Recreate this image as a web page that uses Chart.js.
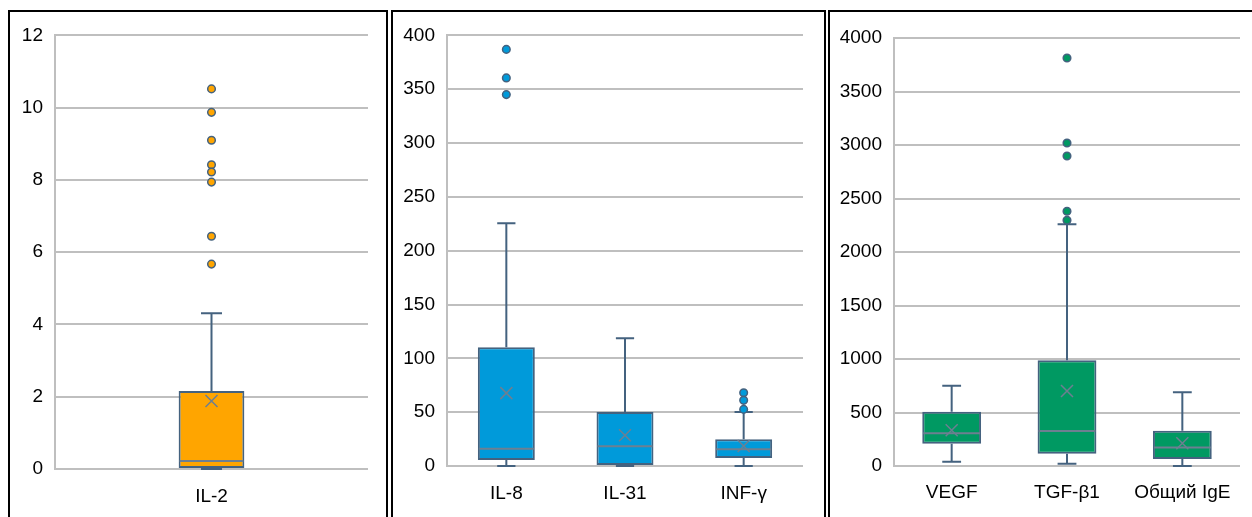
<!DOCTYPE html>
<html>
<head>
<meta charset="utf-8">
<script src="https://cdn.jsdelivr.net/npm/chart.js@4/dist/chart.umd.min.js"></script>
<style>
	html, body { margin: 0; padding: 0; background: #fff; }
	body { width: 1252px; height: 517px; position: relative; overflow: hidden; }
	.panel { position: absolute; top: 10px; height: 530px; border: 2px solid #000; border-bottom: none; box-sizing: border-box; }
	.wrap { position: absolute; }
</style>
</head>
<body>
<div class="panel" style="left:8px;width:380px;"></div>
<div class="panel" style="left:391px;width:435px;"></div>
<div class="panel" style="left:828px;width:440px;"></div>

<div class="wrap" style="left:10px;top:12px;width:376px;height:505px;"><canvas id="chart-il2"></canvas></div>
<div class="wrap" style="left:393px;top:12px;width:431px;height:505px;"><canvas id="chart-il"></canvas></div>
<div class="wrap" style="left:830px;top:12px;width:422px;height:505px;"><canvas id="chart-growth"></canvas></div>

<script>
	'use strict';

	// IL-2 panel
	var il2Labels = ['IL-2'];
	var il2Q1 = [0];
	var il2Q3 = [2.16];
	var il2Median = [0.22];
	var il2Mean = [1.88];
	var il2Low = [0];
	var il2High = [4.31];
	var il2Outliers = [[10.52, 9.87, 9.1, 8.42, 8.22, 7.94, 6.44, 5.67]];
	var il2Ticks = [0, 2, 4, 6, 8, 10, 12];

	// IL-8 / IL-31 / INF-γ panel
	var ilLabels = ['IL-8', 'IL-31', 'INF-γ'];
	var ilQ1 = [5.6, 0, 7.4];
	var ilQ3 = [110.4, 50.1, 24.8];
	var ilMedian = [16.1, 18.3, 15.5];
	var ilMean = [67.7, 28.5, 18.5];
	var ilLow = [0, 0, 0];
	var ilHigh = [225.4, 118.7, 50.1];
	var ilOutliers = [[387, 360.5, 345], [], [68, 61, 52.6]];
	var ilTicks = [0, 50, 100, 150, 200, 250, 300, 350, 400];

	// VEGF / TGF-β1 / IgE panel
	var growthLabels = ['VEGF', 'TGF-β1', 'Общий IgE'];
	var growthQ1 = [207, 114, 66];
	var growthQ3 = [508, 988, 330];
	var growthMedian = [305, 326, 172];
	var growthMean = [334, 701, 212];
	var growthLow = [39, 22, 0];
	var growthHigh = [751, 2259, 689];
	var growthOutliers = [[], [3813, 3019, 2897, 2381, 2297], []];
	var growthTicks = [0, 500, 1000, 1500, 2000, 2500, 3000, 3500, 4000];

	var lineColor = '#44627f';
	var detailColor = '#6d7f91';
	var gridColor = '#bfbfbf';
	var fontFamily = '"Liberation Sans", Arial, sans-serif';

	function boxPartsPlugin(stats) {
		return {
			id: 'boxParts',
			beforeDatasetsDraw: function (chart) {
				var ctx = chart.ctx;
				var x = chart.scales.x;
				var y = chart.scales.y;
				var bars = chart.getDatasetMeta(1).data;
				ctx.save();
				ctx.strokeStyle = lineColor;
				ctx.lineWidth = 2;
				stats.q1.forEach(function (q1, i) {
					var cx = x.getPixelForValue(i);
					var cap = bars[i].width * 0.32 / 2;
					ctx.beginPath();
					ctx.moveTo(cx, y.getPixelForValue(stats.high[i]));
					ctx.lineTo(cx, y.getPixelForValue(stats.q3[i]));
					ctx.moveTo(cx, y.getPixelForValue(stats.low[i]));
					ctx.lineTo(cx, y.getPixelForValue(q1));
					ctx.moveTo(cx - cap, y.getPixelForValue(stats.high[i]));
					ctx.lineTo(cx + cap, y.getPixelForValue(stats.high[i]));
					ctx.moveTo(cx - cap, y.getPixelForValue(stats.low[i]));
					ctx.lineTo(cx + cap, y.getPixelForValue(stats.low[i]));
					ctx.stroke();
				});
				ctx.restore();
			},
			afterDatasetsDraw: function (chart) {
				var ctx = chart.ctx;
				var x = chart.scales.x;
				var y = chart.scales.y;
				var bars = chart.getDatasetMeta(1).data;
				ctx.save();
				ctx.strokeStyle = detailColor;
				stats.median.forEach(function (med, i) {
					var cx = x.getPixelForValue(i);
					var half = bars[i].width / 2 - 1;
					var my = y.getPixelForValue(med);
					ctx.lineWidth = 2;
					ctx.beginPath();
					ctx.moveTo(cx - half, my);
					ctx.lineTo(cx + half, my);
					ctx.stroke();

					var ay = y.getPixelForValue(stats.mean[i]);
					ctx.lineWidth = 1.5;
					ctx.beginPath();
					ctx.moveTo(cx - 6, ay - 6);
					ctx.lineTo(cx + 6, ay + 6);
					ctx.moveTo(cx + 6, ay - 6);
					ctx.lineTo(cx - 6, ay + 6);
					ctx.stroke();
				});
				ctx.restore();
			}
		};
	}

	function makeBoxChart(id, labels, q1, q3, median, mean, low, high, outliers, ticks, fill, box) {
		var points = [];
		outliers.forEach(function (list, i) {
			list.forEach(function (v) {
				points.push({ x: labels[i], y: v });
			});
		});

		return new Chart(document.getElementById(id), {
			type: 'bar',
			data: {
				labels: labels,
				datasets: [{
					type: 'line',
					data: points,
					showLine: false,
					pointRadius: 3.8,
					pointBackgroundColor: fill,
					pointBorderColor: lineColor,
					pointBorderWidth: 1.5
				}, {
					data: labels.map(function (l, i) { return [q1[i], q3[i]]; }),
					backgroundColor: fill,
					borderColor: lineColor,
					borderWidth: 2,
					borderSkipped: false,
					categoryPercentage: 1,
					barPercentage: box.bar
				}]
			},
			options: {
				responsive: true,
				maintainAspectRatio: false,
				animation: false,
				layout: {
					padding: { top: box.top, right: box.right, left: 0, bottom: 0 }
				},
				plugins: {
					legend: { display: false },
					tooltip: { enabled: false }
				},
				scales: {
					x: {
						grid: { display: false, drawTicks: false },
						border: { display: false },
						ticks: {
							color: '#000',
							padding: box.xPad,
							font: { family: fontFamily, size: 19 }
						},
						afterFit: function (scale) {
							scale.height = box.xHeight;
						}
					},
					y: {
						min: ticks[0],
						max: ticks[ticks.length - 1],
						grid: { color: gridColor, lineWidth: 2, drawTicks: false },
						border: { display: true, color: gridColor, width: 2 },
						ticks: {
							stepSize: ticks[1] - ticks[0],
							color: '#000',
							padding: 12,
							font: { family: fontFamily, size: 19 },
							callback: function (value) {
								return String(value);
							}
						},
						afterFit: function (scale) {
							scale.width = box.yWidth;
						}
					}
				}
			},
			plugins: [boxPartsPlugin({ q1: q1, q3: q3, median: median, mean: mean, low: low, high: high })]
		});
	}

	makeBoxChart('chart-il2', il2Labels, il2Q1, il2Q3, il2Median, il2Mean, il2Low, il2High, il2Outliers, il2Ticks,
		'#ffa500', { bar: 0.21, top: 23, right: 18, yWidth: 45, xHeight: 48, xPad: 16 });
	makeBoxChart('chart-il', ilLabels, ilQ1, ilQ3, ilMedian, ilMean, ilLow, ilHigh, ilOutliers, ilTicks,
		'#009ada', { bar: 0.48, top: 22, right: 21, yWidth: 54, xHeight: 51, xPad: 16 });
	makeBoxChart('chart-growth', growthLabels, growthQ1, growthQ3, growthMedian, growthMean, growthLow, growthHigh, growthOutliers, growthTicks,
		'#009962', { bar: 0.51, top: 26, right: 12, yWidth: 64, xHeight: 51, xPad: 15 });
</script>
</body>
</html>
